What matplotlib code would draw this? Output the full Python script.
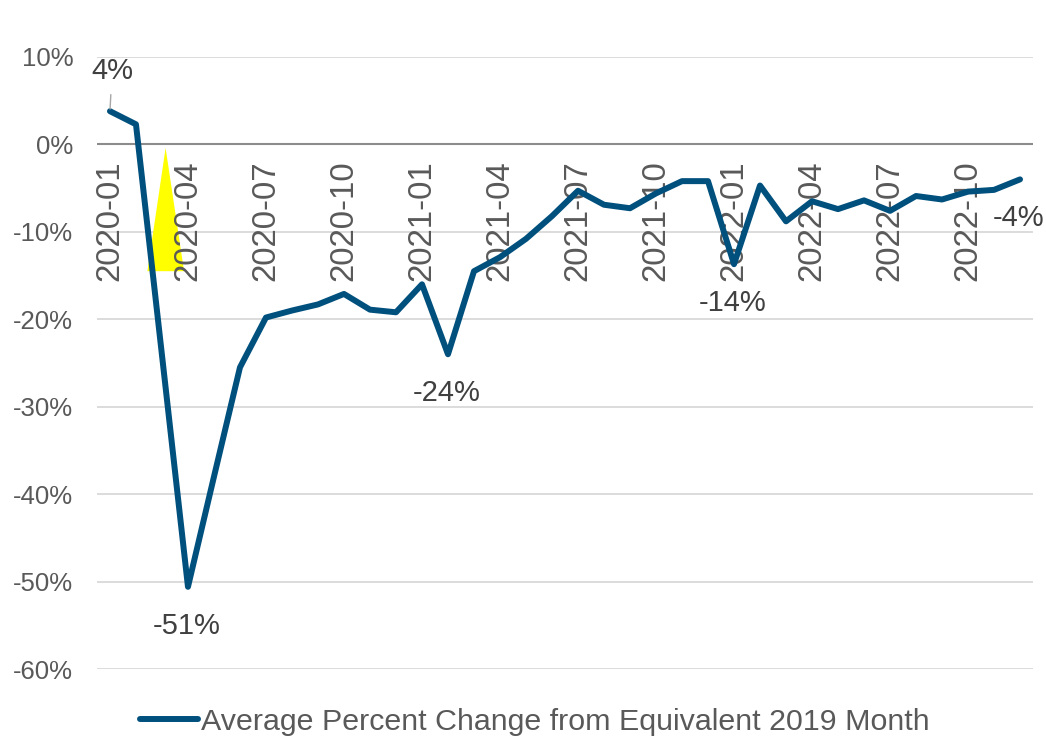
import matplotlib
matplotlib.use("Agg")
import matplotlib.pyplot as plt
import pandas as pd

# months 2020-01 .. 2022-12
months = [p.strftime("%Y-%m") for p in pd.period_range("2020-01", "2022-12", freq="M")]

# average percent change from the same month of 2019
pct_change = [
    3.8, 2.3, -24.1, -50.6, -38.0, -25.5, -19.8, -19.0, -18.3, -17.1, -18.9, -19.2,
    -16.0, -24.0, -14.5, -12.9, -10.8, -8.2, -5.3, -6.9, -7.3, -5.6, -4.2, -4.2,
    -13.7, -4.7, -8.8, -6.5, -7.4, -6.4, -7.6, -5.9, -6.3, -5.4, -5.2, -4.0,
]

# labelled points: (month index, text)
callouts = [(0, "4%"), (3, "-51%"), (13, "-24%"), (24, "-14%"), (35, "-4%")]

# stray yellow triangle in the original (month index, percent)
tri_x = [1.44, 2.14, 2.85]
tri_y = [-14.5, -0.4, -14.5]

line_color = "#00507e"
tick_color = "#595959"
label_color = "#404040"
font = ["Liberation Sans", "DejaVu Sans"]

fig = plt.figure(figsize=(10.46, 7.39), dpi=100)
ax = fig.add_axes([0.0927, 0.0947, 0.8949, 0.8282])

x = list(range(len(months)))

ax.fill(tri_x, tri_y, color="#ffff00", zorder=1, lw=0)

for v in [10, -10, -20, -30, -40, -50, -60]:
    ax.axhline(v, color="#d9d9d9", lw=1.3, zorder=0)
ax.axhline(0, color="#8c8c8c", lw=1.5, zorder=0)

ax.plot(x, pct_change, color=line_color, lw=4.3, solid_joinstyle="round",
        solid_capstyle="round", zorder=3, label="Average Percent Change from Equivalent 2019 Month")

# month labels sit inside the plot, hanging below the zero line
for i in range(0, len(months), 3):
    ax.text(i, -1.8, months[i], rotation=90, ha="center", va="top",
            fontsize=23.8, color=tick_color, family=font, zorder=2)

# data callouts
for i, txt in callouts:
    if i == 0:
        ax.annotate(txt, (i, pct_change[i]), xytext=(1.5, 29), textcoords="offset points",
                    ha="center", va="center", fontsize=21, color=label_color, family=font,
                    zorder=4,
                    arrowprops=dict(arrowstyle="-", color="#a6a6a6", lw=1,
                                    shrinkA=5, shrinkB=1.5))
    else:
        ax.annotate(txt, (i, pct_change[i]), xytext=(-1, -28), textcoords="offset points",
                    ha="center", va="center", fontsize=21, color=label_color, family=font,
                    zorder=4)

ax.set_xlim(-0.5, 35.5)
ax.set_ylim(-60, 10)
ax.set_yticks([10, 0, -10, -20, -30, -40, -50, -60])
ax.set_yticklabels([f"{v}%" for v in [10, 0, -10, -20, -30, -40, -50, -60]],
                   family=font, fontsize=18.5, color=tick_color)
ax.tick_params(axis="y", length=0, pad=17)
ax.set_xticks([])
for s in ax.spines.values():
    s.set_visible(False)

fig.legend(loc="center left", bbox_to_anchor=(140 / 1046, 1 - 722 / 739), frameon=False,
           handlelength=1.9, handletextpad=0.1, borderaxespad=0, borderpad=0,
           prop=dict(family=["Liberation Sans Narrow", "Liberation Sans", "DejaVu Sans"],
                     size=21.9),
           labelcolor=tick_color)

fig.savefig("out.png", dpi=100)
